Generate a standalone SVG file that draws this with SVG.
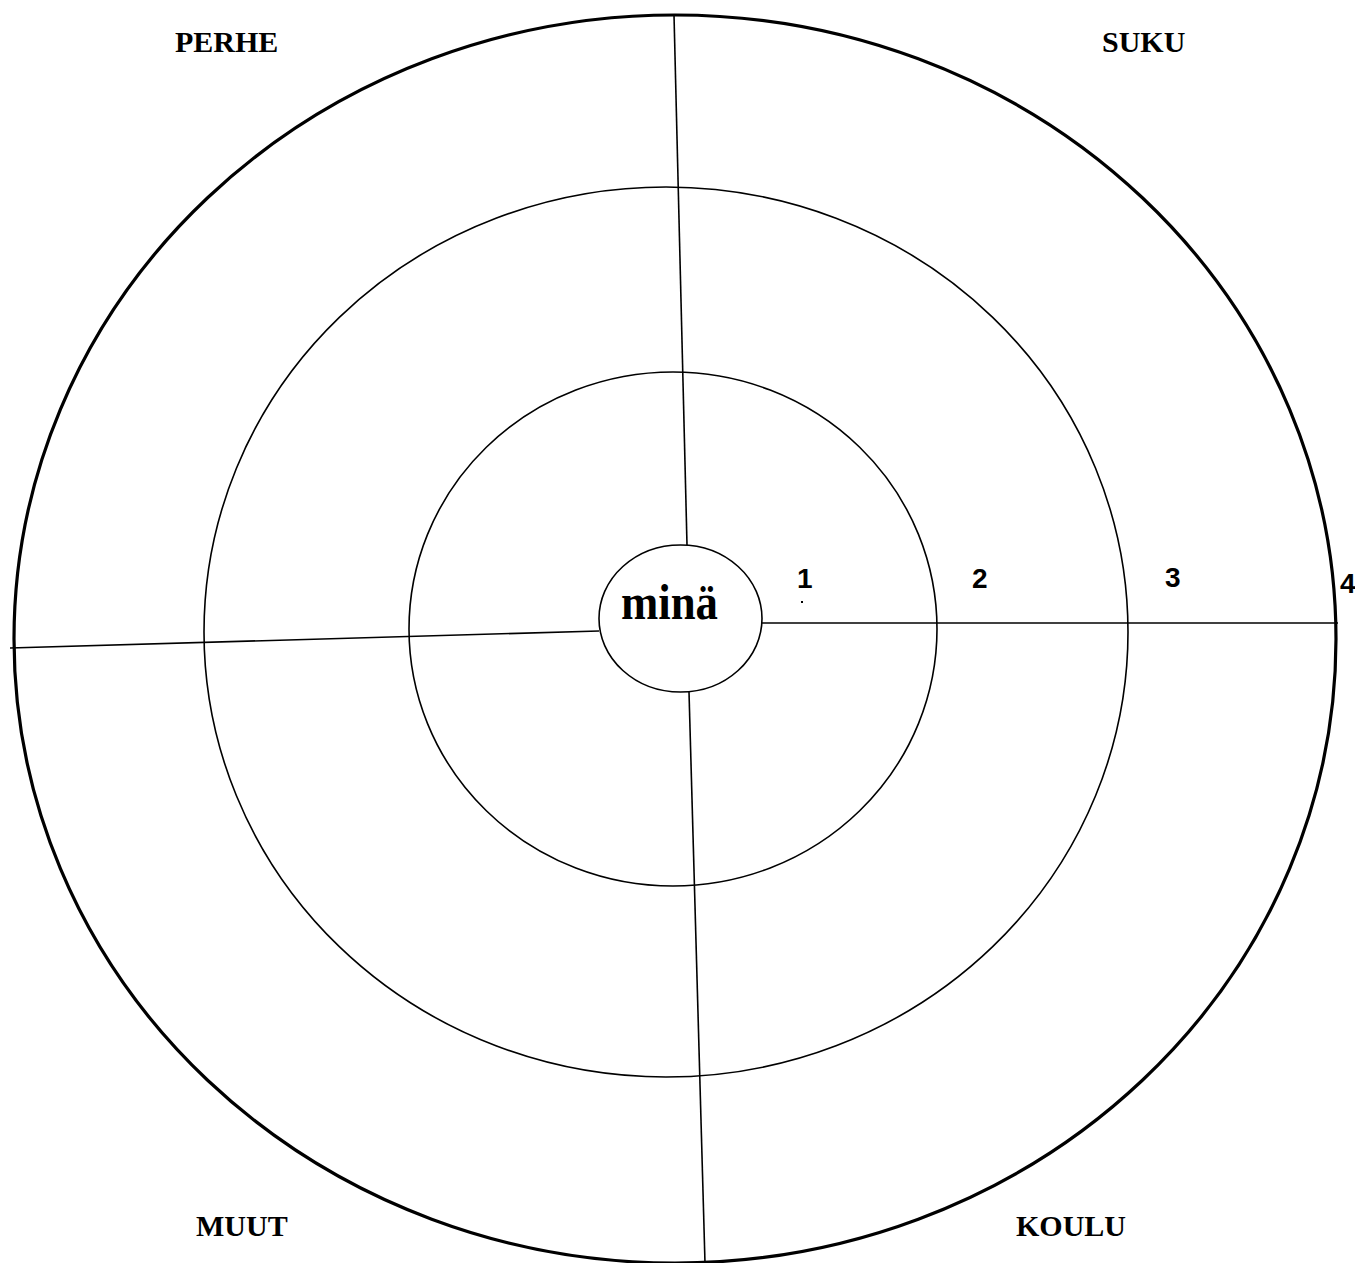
<svg xmlns="http://www.w3.org/2000/svg" width="1355" height="1263" viewBox="0 0 1355 1263">
<style>
.ring{fill:none;stroke:#000;stroke-width:1.6}
.outer{fill:none;stroke:#000;stroke-width:3.2}
.div{stroke:#000;stroke-width:1.6}
.lbl{font-family:"Liberation Serif","Times New Roman",serif;font-weight:bold;font-size:30px;fill:#000}
.num{font-family:"Liberation Sans",Arial,sans-serif;font-weight:bold;font-size:28px;fill:#000}
</style>
<rect width="1355" height="1263" fill="#fff"/>
<g id="rings">
<ellipse id="ring4" class="outer" cx="675" cy="639" rx="661" ry="624"/>
<ellipse id="ring3" class="ring" cx="666" cy="632" rx="462" ry="445"/>
<ellipse id="ring2" class="ring" cx="673" cy="629" rx="264" ry="257"/>
</g>
<g id="connectors">
<line class="div" x1="674" y1="15" x2="687" y2="545"/>
<line class="div" x1="10" y1="648" x2="599" y2="631"/>
<line class="div" x1="762" y1="623" x2="1338" y2="623"/>
<line class="div" x1="689" y1="692" x2="705" y2="1263"/>
</g>
<g id="mina">
<ellipse class="ring" cx="680.5" cy="618.5" rx="81.5" ry="73.5"/>
<text x="621" y="619" font-family="Liberation Serif,'Times New Roman',serif" font-weight="bold" font-size="50" textLength="97" lengthAdjust="spacingAndGlyphs">minä</text>
</g>
<g id="numbers">
<text class="num" x="797" y="588">1</text>
<rect x="801" y="601" width="2" height="2" fill="#000"/>
<text class="num" x="972" y="588">2</text>
<text class="num" x="1165" y="587">3</text>
<text class="num" x="1340" y="593">4</text>
</g>
<g id="perhe"><text class="lbl" x="175" y="52">PERHE</text></g>
<g id="suku"><text class="lbl" x="1102" y="52">SUKU</text></g>
<g id="muut"><text class="lbl" x="196" y="1236">MUUT</text></g>
<g id="koulu"><text class="lbl" x="1016" y="1236">KOULU</text></g>
</svg>
